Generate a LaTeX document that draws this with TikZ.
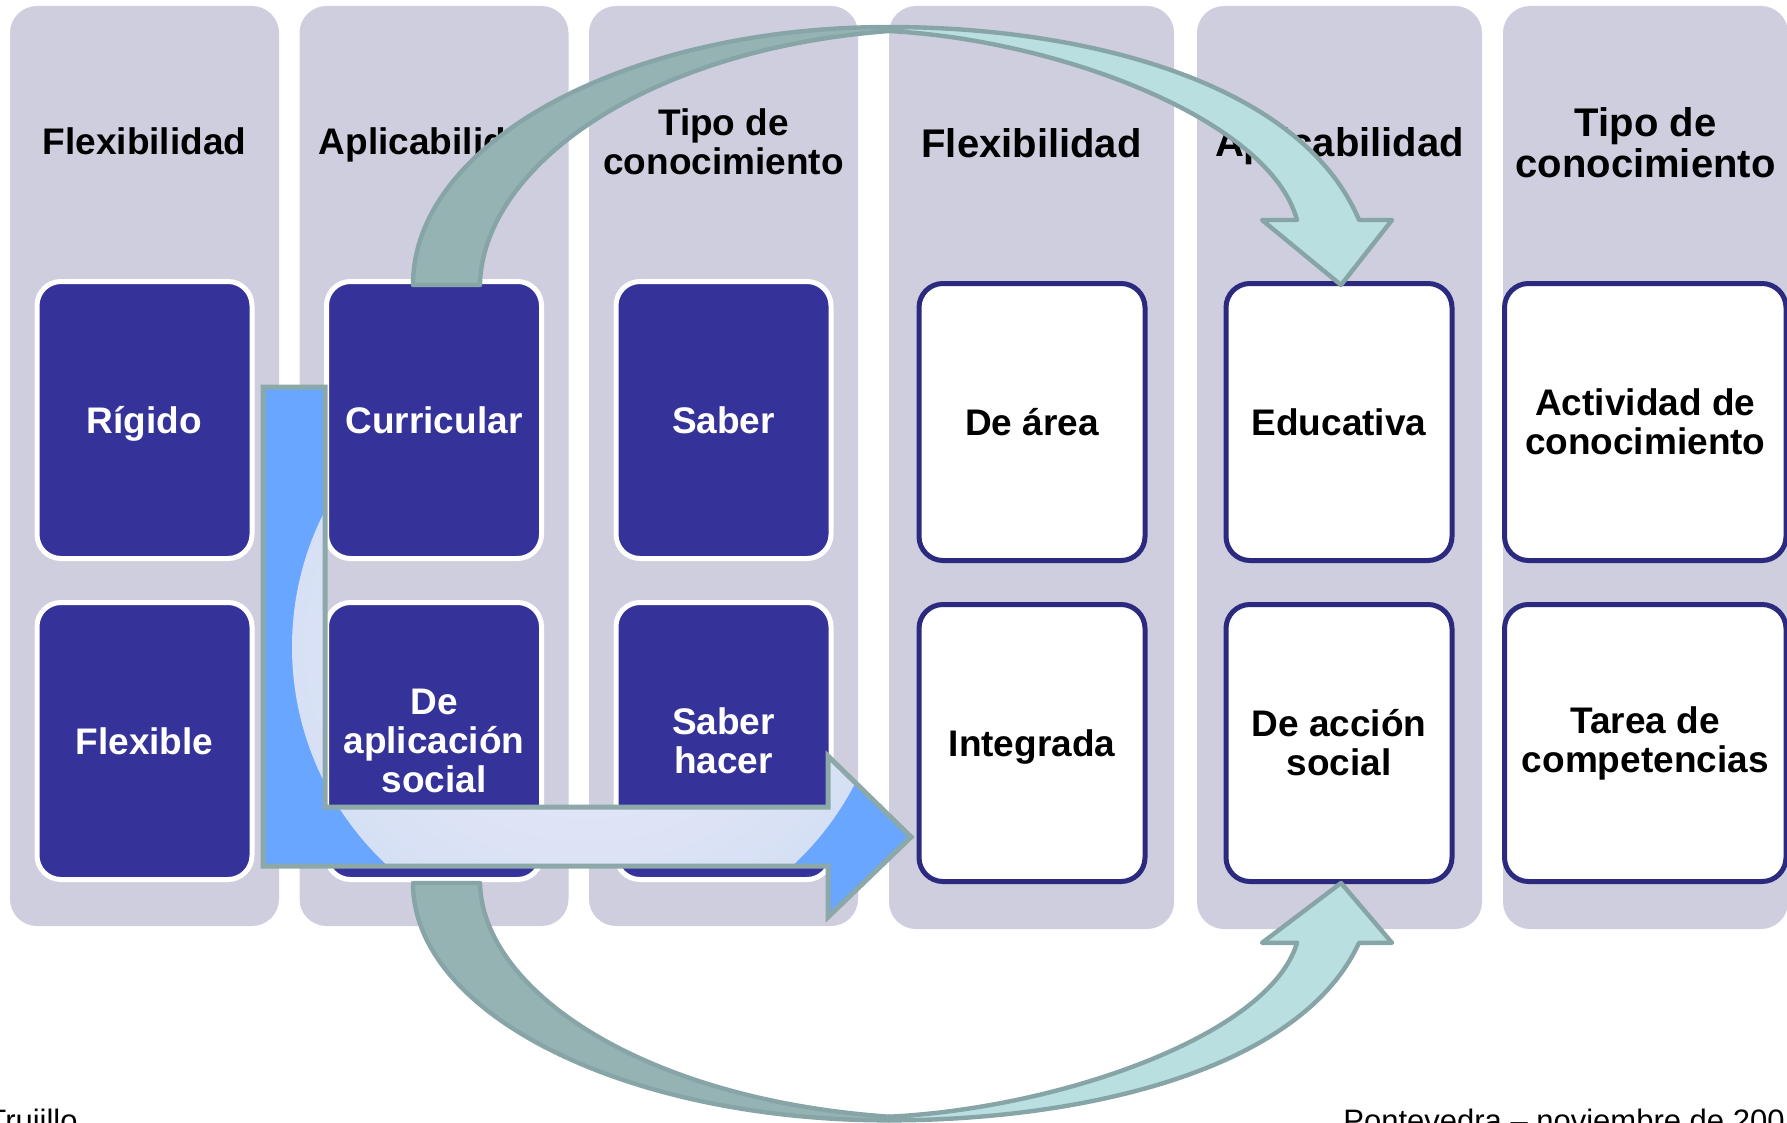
\documentclass[tikz,border=0pt]{standalone}
\usepackage{fontspec}
\setmainfont{Liberation Sans}
\usetikzlibrary{positioning}

\definecolor{colbg}{RGB}{206,206,222}
\definecolor{boxblue}{RGB}{53,51,153}
\definecolor{navy}{RGB}{43,42,126}
\definecolor{arrowdark}{RGB}{150,179,180}
\definecolor{arrowlight}{RGB}{185,223,225}
\definecolor{arrowline}{RGB}{135,165,166}
\definecolor{lblue}{RGB}{104,166,255}
\definecolor{glowin}{RGB}{236,236,248}
\definecolor{glowout}{RGB}{189,210,240}
\definecolor{lline}{RGB}{140,168,168}

\pgfdeclareradialshading{glow}{\pgfpoint{0bp}{0bp}}{color(0bp)=(glowin); color(50bp)=(glowout); color(51bp)=(glowout)}

\tikzset{
    x=0.5pt, y=-0.5pt, % one unit is one pixel of the slide, y runs downwards
    column/.style={fill=colbg, rounded corners=13.5pt, minimum width=134.5pt, minimum height=460pt, inner sep=0pt}, % grey band behind each group
    widecolumn/.style={column, minimum width=142.5pt, minimum height=461.5pt}, % the bands on the right are a bit wider
    head/.style={font=\fontsize{18.5pt}{19.5pt}\selectfont\bfseries, align=center, inner sep=0pt}, % titles and box texts
    bighead/.style={head, font=\fontsize{20pt}{20.5pt}\selectfont\bfseries}, % titles on the right are larger
    flat/.style={text height=13.5pt, text depth=0pt}, % one-line texts with descenders or accents
    darkbox/.style={head, fill=boxblue, draw=white, line width=2.5pt, rounded corners=12pt, text=white, minimum width=107.5pt, minimum height=138.5pt},
    lightbox/.style={head, fill=white, draw=navy, line width=2.5pt, rounded corners=12pt, minimum width=113pt, minimum height=138.5pt},
    foot/.style={font=\fontsize{15.5pt}{18pt}\selectfont, inner sep=0pt},
    flow arrow/.pic={
        % darker half, from the box up to the top of the bend
        \draw[arrowline, line width=2.2pt, fill=arrowdark, line join=round]
            (413,0) .. controls (413,-142.5) and (626,-258) .. (889,-258)
            -- (889,-254) .. controls (640,-235) and (482,-115) .. (480,0) -- cycle;
        % lighter half with the head
        \draw[arrowline, line width=2.2pt, fill=arrowlight, line join=round]
            (889,-258) .. controls (1080,-258) and (1300,-205) .. (1359,-65)
            -- (1392,-65) -- (1341,0) -- (1262,-65) -- (1297,-65)
            .. controls (1270,-165) and (1060,-245) .. (889,-254) -- cycle;
    },
}

\begin{document}
\begin{tikzpicture}

    \useasboundingbox (0,0) rectangle (1787,1123);

    % bands
    \node[column] (c1) at (144.5,466) {};
    \node[column] (c2) at (434,466) {};
    \node[column] (c3) at (723.5,466) {};
    \node[widecolumn] (c4) at (1031.5,467.5) {};
    \node[widecolumn] (c5) at (1339.5,467.5) {};
    \node[widecolumn] (c6) at (1645.5,467.5) {};

    % titles
    \node[head] (h1) at (144.5,141) {Flexibilidad};
    \node[head, flat] (h2) at (434,141) {Aplicabilidad};
    \node[head] (h3) at (723.5,142) {Tipo de\\conocimiento};
    \node[bighead] (h4) at (1031.5,143) {Flexibilidad};
    \node[bighead, flat] (h5) at (1339.5,143) {Aplicabilidad};
    \node[bighead] (h6) at (1645.5,143) {Tipo de\\conocimiento};

    % left groups
    \node[darkbox, flat] (rigido) at (144.5,420) {Rígido};
    \node[darkbox, below=19.5pt of rigido] (flexible) {Flexible};
    \node[darkbox] (curricular) at (434,420) {Curricular};
    \node[darkbox, below=19.5pt of curricular] (social) {De\\aplicación\\social};
    \node[darkbox] (saber) at (723.5,420) {Saber};
    \node[darkbox, below=19.5pt of saber] (hacer) {Saber\\hacer};

    % right groups
    \node[lightbox] (area) at (1032,422) {De área};
    \node[lightbox, flat, below=19.5pt of area] (integrada) {Integrada};
    \node[lightbox] (educativa) at (1339,422) {Educativa};
    \node[lightbox, below=19.5pt of educativa] (accion) {De acción\\social};
    \node[lightbox, minimum width=140.75pt] (actividad) at (1645.25,422) {Actividad de\\conocimiento};
    \node[lightbox, minimum width=140.75pt, below=19.5pt of actividad] (tarea) {Tarea de\\competencias};

    % bent arrow
    \draw[lline, line width=2.5pt, fill=lblue,
          path picture={\shade[shading=glow] (590,647) circle (298);}]
        (263,387) -- (325,387) -- (325,807) -- (828,807) -- (828,756)
        -- (911,837) -- (828,917) -- (828,866) -- (263,866) -- cycle;

    % curved arrows
    \pic at (0,285) {flow arrow};
    \pic[yscale=-0.92] at (0,883) {flow arrow};

    % footer
    \node[foot, anchor=base east] (place) at (78,1131) {Trujillo};
    \node[foot, anchor=base west] (date) at (1343,1131) {Pontevedra – noviembre de 200};

\end{tikzpicture}
\end{document}
